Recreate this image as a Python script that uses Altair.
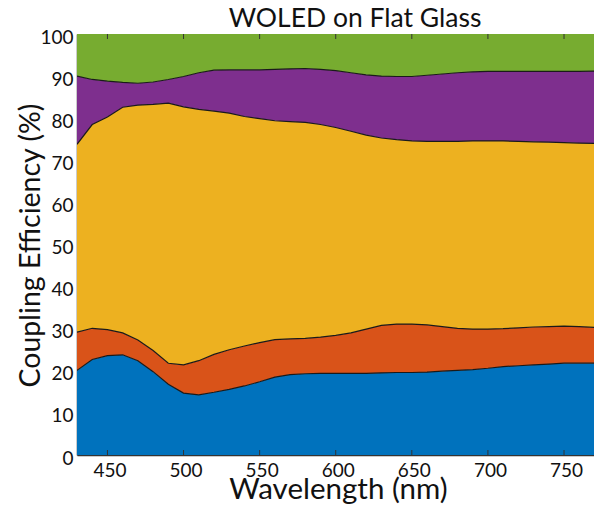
import altair as alt
import pandas as pd

wavelength = [430, 440, 450, 460, 470, 480, 490, 500, 510, 520, 530, 540, 550, 560, 570, 580,
              590, 600, 610, 620, 630, 640, 650, 660, 670, 680, 690, 700, 710, 720, 730, 740,
              750, 760, 770, 780]

# cumulative boundaries (%)
blue_top = [20.1, 22.7, 23.6, 23.8, 22.4, 19.8, 16.8, 14.7, 14.3, 14.9, 15.6, 16.4, 17.4, 18.5,
            19.1, 19.3, 19.4, 19.4, 19.4, 19.4, 19.5, 19.6, 19.6, 19.7, 19.9, 20.1, 20.3, 20.6,
            21.0, 21.2, 21.4, 21.6, 21.8, 21.8, 21.8, 21.8]
orange_top = [29.2, 30.1, 29.8, 29.0, 27.3, 24.8, 21.8, 21.4, 22.4, 23.9, 25.0, 25.9, 26.7,
              27.4, 27.6, 27.7, 28.0, 28.4, 29.0, 29.9, 30.8, 31.1, 31.1, 30.9, 30.5, 30.1,
              29.9, 29.9, 30.0, 30.2, 30.4, 30.5, 30.6, 30.5, 30.3, 30.2]
yellow_top = [73.8, 78.5, 80.3, 82.6, 83.1, 83.3, 83.6, 82.7, 82.1, 81.7, 81.2, 80.4, 79.9,
              79.4, 79.2, 79.0, 78.5, 77.8, 76.9, 76.0, 75.3, 74.9, 74.6, 74.5, 74.5, 74.5,
              74.6, 74.6, 74.6, 74.5, 74.4, 74.3, 74.2, 74.1, 74.0, 74.0]
purple_top = [90.0, 89.2, 88.8, 88.5, 88.3, 88.6, 89.2, 89.9, 90.8, 91.4, 91.5, 91.5, 91.5,
              91.6, 91.7, 91.8, 91.6, 91.3, 90.8, 90.3, 90.0, 89.9, 89.9, 90.2, 90.5, 90.8,
              91.0, 91.1, 91.1, 91.1, 91.1, 91.1, 91.1, 91.1, 91.2, 91.2]
green_top = [100.0] * len(wavelength)
zero = [0.0] * len(wavelength)

series = ["Mode 1", "Mode 2", "Mode 3", "Mode 4", "Mode 5"]
colors = ["#0072BD", "#D95319", "#EDB120", "#7E2F8E", "#77AC30"]
x_ticks = [450, 500, 550, 600, 650, 700, 750]
y_ticks = [0, 10, 20, 30, 40, 50, 60, 70, 80, 90, 100]
chart_title = ["WOLED on Flat Glass"]

bounds = [zero, blue_top, orange_top, yellow_top, purple_top, green_top]
rows = []
for i, name in enumerate(series):
    for j, w in enumerate(wavelength):
        rows.append({"wl": w, "series": name, "lo": bounds[i][j], "hi": bounds[i + 1][j], "k": i})
df = pd.DataFrame(rows)

line_rows = []
for i, b in enumerate([blue_top, orange_top, yellow_top, purple_top]):
    for j, w in enumerate(wavelength):
        line_rows.append({"wl": w, "b": i, "v": b[j]})
ldf = pd.DataFrame(line_rows)

FONT = "Lato"
W, H = 517, 421
xscale = alt.Scale(domain=[430, 769.7], nice=False, zero=False)
yscale = alt.Scale(domain=[0, 100], nice=False)

areas = alt.Chart(df).mark_area(clip=True, opacity=1).encode(
    x=alt.X("wl:Q", scale=xscale,
            axis=alt.Axis(title="Wavelength (nm)", values=x_ticks, tickSize=0, labelPadding=6,
                          labelFontSize=19, labelFont=FONT, labelColor="#111", labelOffset=2,
                          titleFont=FONT, titleFontSize=29.5, titleFontWeight="normal",
                          titleColor="#111", titleBaseline="alphabetic", titleY=43, titleX=261,
                          domainColor="#333", domainWidth=1.5, grid=False, labelFlush=False)),
    y=alt.Y("lo:Q", scale=yscale,
            axis=alt.Axis(title="Coupling Efficiency (%)", values=y_ticks,
                          tickSize=0, labelPadding=4, labelFontSize=19, labelFont=FONT,
                          labelColor="#111", labelOffset=3, titleFont=FONT, titleFontSize=28.5,
                          titleFontWeight="normal", titleColor="#111", titleBaseline="alphabetic",
                          titleX=-38, titleY=211, domainColor="#333", domainWidth=1.5, grid=False,
                          labelFlush=False)),
    y2="hi:Q",
    color=alt.Color("series:N", scale=alt.Scale(domain=series, range=colors), legend=None),
    detail="k:N",
)

lines = alt.Chart(ldf).mark_line(clip=True, color="#1a1a1a", strokeWidth=1.2).encode(
    x=alt.X("wl:Q", scale=xscale),
    y=alt.Y("v:Q", scale=yscale),
    detail="b:N",
)

tdf = pd.DataFrame({"t": x_ticks})
top_ticks = alt.Chart(tdf).mark_rule(color="#333", strokeWidth=1).encode(
    x=alt.X("t:Q", scale=xscale), y=alt.value(0), y2=alt.value(5))
bot_ticks = alt.Chart(tdf).mark_rule(color="#333", strokeWidth=1).encode(
    x=alt.X("t:Q", scale=xscale), y=alt.value(H), y2=alt.value(H - 5))

title_text = alt.Chart(pd.DataFrame({"t": chart_title})).mark_text(
    font=FONT, fontSize=26.5, color="#111", align="center", baseline="alphabetic"
).encode(text="t:N", x=alt.value(278), y=alt.value(-7))

chart = alt.layer(areas, lines, top_ticks, bot_ticks, title_text).properties(
    width=W, height=H,
    autosize="none",
    padding={"left": 69, "top": 26, "right": 0, "bottom": 49},
).configure_view(stroke="#999", strokeWidth=1).configure(background="white")

chart.save("out.html", embed_options={"renderer": "svg", "actions": False})
